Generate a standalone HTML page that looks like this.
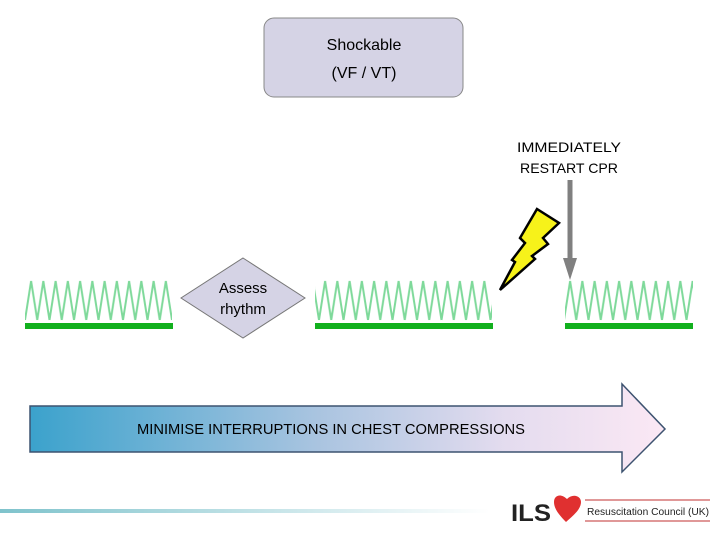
<!DOCTYPE html>
<html><head><meta charset="utf-8"><style>
body{margin:0;background:#fff;width:720px;height:540px;overflow:hidden}
text{font-family:"Liberation Sans",sans-serif}
</style></head><body>
<svg width="720" height="540" viewBox="0 0 720 540" xmlns="http://www.w3.org/2000/svg">
<defs>
<pattern id="zz" x="25" y="0" width="12.25" height="540" patternUnits="userSpaceOnUse">
<polyline points="0,320 6.1,281 12.25,320" fill="none" stroke="#7ed99a" stroke-width="2"/>
</pattern>
<linearGradient id="ag" x1="0" x2="1" y1="0" y2="0">
<stop offset="0" stop-color="#3ba2cc"/>
<stop offset="0.45" stop-color="#a9c4e0"/>
<stop offset="0.75" stop-color="#e4dcef"/>
<stop offset="1" stop-color="#fbe8f4"/>
</linearGradient>
<linearGradient id="lg" x1="0" x2="1">
<stop offset="0" stop-color="#7fc3cc"/>
<stop offset="1" stop-color="#ffffff"/>
</linearGradient>
</defs>
<rect x="264" y="18" width="199" height="79" rx="10" fill="#d5d3e5" stroke="#888" stroke-width="1"/>
<text x="364" y="50" font-size="16" text-anchor="middle">Shockable</text>
<text x="364" y="78" font-size="16" text-anchor="middle">(VF / VT)</text>
<text x="569" y="152" font-size="14" text-anchor="middle" textLength="104" lengthAdjust="spacingAndGlyphs">IMMEDIATELY</text>
<text x="569" y="173" font-size="14" text-anchor="middle" textLength="98" lengthAdjust="spacingAndGlyphs">RESTART CPR</text>
<rect x="25" y="278" width="147" height="44" fill="url(#zz)"/>
<rect x="315" y="278" width="177" height="44" fill="url(#zz)"/>
<rect x="565" y="278" width="128" height="44" fill="url(#zz)"/>
<rect x="25" y="323" width="148" height="6" fill="#12b01e"/>
<rect x="315" y="323" width="178" height="6" fill="#12b01e"/>
<rect x="565" y="323" width="128" height="6" fill="#12b01e"/>
<polygon points="243,258 305,298 243,338 181,298" fill="#d5d3e5" stroke="#777" stroke-width="1"/>
<text x="243" y="293" font-size="15" text-anchor="middle">Assess</text>
<text x="243" y="314" font-size="15" text-anchor="middle">rhythm</text>
<polygon points="537,209 559,223 543,238 548,244 532,256 535,259 500,290 515,262 512,260 525,243 520,238" fill="#f7f21a" stroke="#000" stroke-width="2.5" stroke-linejoin="miter"/>
<line x1="570" y1="180" x2="570" y2="262" stroke="#808080" stroke-width="5"/>
<polygon points="563,258 577,258 570,280" fill="#808080"/>
<polygon points="30,406 622,406 622,384 665,429 622,472 622,452 30,452" fill="url(#ag)" stroke="#3d5370" stroke-width="1.5"/>
<text x="137" y="434" font-size="15" textLength="388" lengthAdjust="spacingAndGlyphs">MINIMISE INTERRUPTIONS IN CHEST COMPRESSIONS</text>
<rect x="0" y="509" width="490" height="4" fill="url(#lg)"/>
<text x="511" y="521" font-size="24" font-weight="bold" fill="#222" textLength="40" lengthAdjust="spacingAndGlyphs">ILS</text>
<path d="M566,522 C558,514 554,508 554,502 C554,495 561,493 567,499 C573,493 581,496 581,502 C581,509 574,515 566,522Z" fill="#e03030"/>
<line x1="585" y1="500" x2="710" y2="500" stroke="#c03030" stroke-width="1"/>
<line x1="585" y1="521" x2="710" y2="521" stroke="#c03030" stroke-width="1"/>
<text x="587" y="515" font-size="10" fill="#222" textLength="122" lengthAdjust="spacingAndGlyphs">Resuscitation Council (UK)</text>
</svg>
</body></html>
